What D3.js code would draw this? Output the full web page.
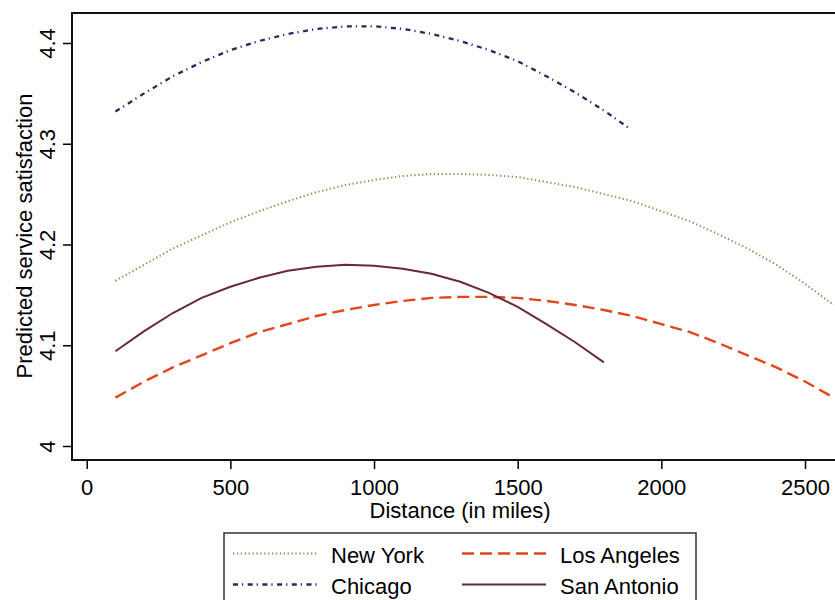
<!DOCTYPE html>
<html>
<head>
<meta charset="utf-8">
<script src="https://cdn.jsdelivr.net/npm/d3@7/dist/d3.min.js"></script>
<style>
  body { margin: 0; background: #fff; }
  svg { display: block; font-family: "Liberation Sans", Arial, sans-serif; }
</style>
</head>
<body>
<div id="chart"></div>
<script>
const nyMiles = [100,200,300,400,500,600,700,800,900,1000,1100,1200,1300,1400,1500,1600,1700,1800,1900,2000,2100,2200,2300,2400,2500,2600];
const nyValues = [4.164,4.180,4.196,4.209,4.222,4.233,4.243,4.252,4.259,4.264,4.268,4.270,4.270,4.269,4.267,4.262,4.257,4.250,4.243,4.233,4.223,4.210,4.196,4.180,4.161,4.140];

const laMiles = [100,200,300,400,500,600,700,800,900,1000,1100,1200,1300,1400,1500,1600,1700,1800,1900,2000,2100,2200,2300,2400,2500,2600];
const laValues = [4.048,4.064,4.078,4.090,4.102,4.113,4.121,4.129,4.135,4.140,4.144,4.147,4.148,4.148,4.147,4.144,4.140,4.135,4.129,4.121,4.113,4.102,4.090,4.078,4.064,4.048];

const chiMiles = [100,200,300,400,500,600,700,800,900,1000,1100,1200,1300,1400,1500,1600,1700,1800,1890];
const chiValues = [4.332,4.350,4.367,4.381,4.393,4.402,4.409,4.414,4.4165,4.4166,4.414,4.409,4.402,4.393,4.382,4.367,4.351,4.333,4.315];

const saMiles = [100,200,300,400,500,600,700,800,900,1000,1100,1200,1300,1400,1500,1600,1700,1800];
const saValues = [4.094,4.114,4.132,4.147,4.158,4.167,4.174,4.178,4.180,4.179,4.176,4.171,4.163,4.152,4.138,4.121,4.103,4.083];

const xTicks = [0, 500, 1000, 1500, 2000, 2500];
const yTicks = [4, 4.1, 4.2, 4.3, 4.4];

const series = [
  { name: 'New York', miles: nyMiles, values: nyValues, color: '#6f9d52', width: 2, dash: '1.3,2.6' },
  { name: 'Chicago', miles: chiMiles, values: chiValues, color: '#1f2f5c', width: 2.3, dash: '5,4,1.2,4.5' },
  { name: 'Los Angeles', miles: laMiles, values: laValues, color: '#e2461b', width: 2.4, dash: '12,6' },
  { name: 'San Antonio', miles: saMiles, values: saValues, color: '#692a35', width: 2, dash: null }
];

const width = 835, height = 600;
const frame = { left: 72, top: 13, right: 850, bottom: 460 };

const svg = d3.select('#chart').append('svg')
  .attr('width', width)
  .attr('height', height);

svg.append('rect').attr('width', width).attr('height', height).attr('fill', '#fff');

const x = d3.scaleLinear().domain([0, 2500]).range([86.7, 805]);
const y = d3.scaleLinear().domain([4, 4.4]).range([446, 43]);

// axes
const xAxis = d3.axisBottom(x).tickValues(xTicks).tickSize(9).tickPadding(8).tickFormat(d3.format('d'));
const yAxis = d3.axisLeft(y).tickValues(yTicks).tickSize(9).tickFormat(d => String(d));

const xg = svg.append('g').attr('transform', `translate(0,${frame.bottom})`).call(xAxis);
xg.select('.domain').remove();
xg.selectAll('.tick line').attr('stroke', '#000').attr('stroke-width', 1.5);
xg.selectAll('.tick text')
  .attr('y', 35).attr('dy', 0)
  .attr('font-size', 22).attr('fill', '#000')
  .attr('font-family', '"Liberation Sans", Arial, sans-serif');

const yg = svg.append('g').attr('transform', `translate(${frame.left},0)`).call(yAxis);
yg.select('.domain').remove();
yg.selectAll('.tick line').attr('stroke', '#000').attr('stroke-width', 1.5);
yg.selectAll('.tick text')
  .attr('x', 0).attr('dy', 0)
  .attr('transform', 'translate(-17,0) rotate(-90)')
  .attr('text-anchor', 'middle')
  .attr('font-size', 22).attr('fill', '#000')
  .attr('font-family', '"Liberation Sans", Arial, sans-serif');

// lines
const line = d3.line()
  .x(d => x(d[0]))
  .y(d => y(d[1]));

svg.selectAll('.series')
  .data(series)
  .enter()
  .append('path')
  .attr('class', 'series')
  .attr('d', d => line(d.miles.map((m, i) => [m, d.values[i]])))
  .attr('fill', 'none')
  .attr('stroke', d => d.color)
  .attr('stroke-width', d => d.width)
  .attr('stroke-dasharray', d => d.dash);

// plot frame
svg.append('rect')
  .attr('x', frame.left)
  .attr('y', frame.top)
  .attr('width', frame.right - frame.left)
  .attr('height', frame.bottom - frame.top)
  .attr('fill', 'none')
  .attr('stroke', '#111')
  .attr('stroke-width', 2);

// axis titles
svg.append('text')
  .attr('x', 460).attr('y', 518)
  .attr('text-anchor', 'middle')
  .attr('font-size', 22)
  .text('Distance (in miles)');

svg.append('text')
  .attr('transform', 'translate(32,236) rotate(-90)')
  .attr('text-anchor', 'middle')
  .attr('font-size', 22)
  .text('Predicted service satisfaction');

// legend
const legend = svg.append('g');
legend.append('rect')
  .attr('x', 224).attr('y', 533)
  .attr('width', 472).attr('height', 90)
  .attr('fill', '#fff')
  .attr('stroke', '#333')
  .attr('stroke-width', 1.5);

const legendPos = [
  { lx: 233, tx: 331, ly: 553.5 },
  { lx: 233, tx: 331, ly: 584.5 },
  { lx: 462, tx: 560, ly: 553.5 },
  { lx: 462, tx: 560, ly: 584.5 }
];

const items = legend.selectAll('.item')
  .data(series)
  .enter()
  .append('g')
  .attr('class', 'item');

items.append('line')
  .attr('x1', (d, i) => legendPos[i].lx)
  .attr('x2', (d, i) => legendPos[i].lx + 84)
  .attr('y1', (d, i) => legendPos[i].ly)
  .attr('y2', (d, i) => legendPos[i].ly)
  .attr('stroke', d => d.color)
  .attr('stroke-width', d => d.width)
  .attr('stroke-dasharray', d => d.dash);

items.append('text')
  .attr('x', (d, i) => legendPos[i].tx)
  .attr('y', (d, i) => legendPos[i].ly + 9)
  .attr('font-size', 22)
  .text(d => d.name);
</script>
</body>
</html>
